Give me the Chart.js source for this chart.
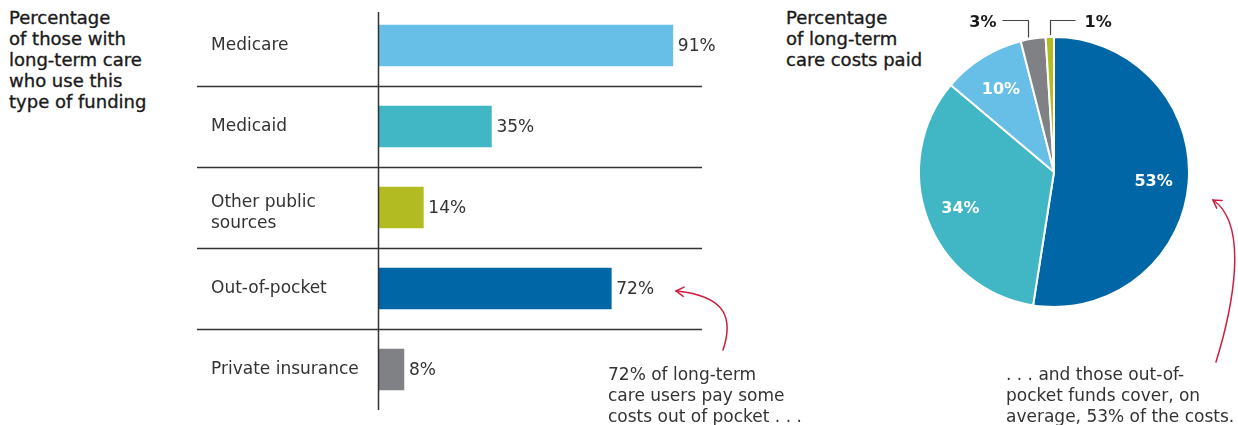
<!DOCTYPE html>
<html><head><meta charset="utf-8">
<script src="https://cdn.jsdelivr.net/npm/chart.js@4.4.1/dist/chart.umd.min.js"></script>
<style>
html,body{margin:0;padding:0;background:#fff;width:1238px;height:425px;overflow:hidden;font-family:"DejaVu Sans",sans-serif;}
.box{position:absolute;}
.ttl{position:absolute;font-size:18px;line-height:21px;color:#1a1a1a;-webkit-text-stroke:.35px #1a1a1a;white-space:nowrap;}
.note{position:absolute;font-size:17px;line-height:21px;color:#333;white-space:nowrap;}
</style></head>
<body>
<div class="ttl" style="left:9px;top:7px">Percentage<br>of those with<br>long-term care<br>who use this<br>type of funding</div>
<div class="ttl" style="left:786px;top:7px">Percentage<br>of long-term<br>care costs paid</div>
<div class="box" style="left:0;top:0;width:760px;height:425px"><canvas id="barChart"></canvas></div>
<div class="box" style="left:880px;top:0;width:358px;height:425px"><canvas id="pieChart"></canvas></div>
<div class="note" style="left:608px;top:364px">72% of long-term<br>care users pay some<br>costs out of pocket . . .</div>
<div class="note" style="left:1006px;top:364px">. . . and those out-of-<br>pocket funds cover, on<br>average, 53% of the costs.</div>
<script>
/* ===== data ===== */
const barCats=[['Medicare'],['Medicaid'],['Other public','sources'],['Out-of-pocket'],['Private insurance']];
const barVals=[91,35,14,72,8];
const barCols=['#67bfe7','#41b6c4','#b2bc22','#0066a6','#808184'];
const pieCats=['Out-of-pocket','Medicaid','Medicare','Private insurance','Other public sources'];
const pieVals=[53,34,10,3,1];
const pieCols=['#0066a6','#41b6c4','#67bfe7','#808184','#b2bc22'];
const RED='#cc1f40', INK='#333';

/* ---------- arrow helper ---------- */
function arrow(ctx,p0,c1,c2,p1){
  ctx.save(); ctx.strokeStyle=RED; ctx.lineWidth=1.5; ctx.lineCap='round';
  ctx.beginPath(); ctx.moveTo(...p0); ctx.bezierCurveTo(...c1,...c2,...p1); ctx.stroke();
  const a=Math.atan2(p1[1]-c2[1],p1[0]-c2[0]), L=9;
  ctx.beginPath();
  ctx.moveTo(p1[0]-L*Math.cos(a-0.55),p1[1]-L*Math.sin(a-0.55)); ctx.lineTo(...p1);
  ctx.lineTo(p1[0]-L*Math.cos(a+0.55),p1[1]-L*Math.sin(a+0.55)); ctx.stroke();
  ctx.restore();
}

/* ---------- bar chart ---------- */
const barDeco={id:'barDeco',
  beforeDatasetsDraw(c){
    const {ctx,scales:{y}}=c;
    ctx.save(); ctx.strokeStyle=INK; ctx.lineWidth=1.5;
    for(let i=0;i<barVals.length-1;i++){
      const yy=Math.round((y.getPixelForValue(i)+y.getPixelForValue(i+1))/2)+.5;
      ctx.beginPath(); ctx.moveTo(197,yy); ctx.lineTo(702,yy); ctx.stroke();
    }
    ctx.restore();
  },
  afterDatasetsDraw(c){
    const {ctx,scales:{x,y}}=c;
    ctx.save(); ctx.strokeStyle=INK; ctx.lineWidth=1.5;
    ctx.beginPath(); ctx.moveTo(378.5,12); ctx.lineTo(378.5,410); ctx.stroke();
    ctx.font='17px "DejaVu Sans"'; ctx.fillStyle=INK; ctx.textBaseline='alphabetic';
    barCats.forEach((lines,i)=>{
      const cy=y.getPixelForValue(i);
      ctx.textAlign='left';
      if(lines.length===1) ctx.fillText(lines[0],211,cy+4.5);
      else lines.forEach((t,k)=>ctx.fillText(t,211,cy-0.5+k*21));
      ctx.fillText(barVals[i]+'%',x.getPixelForValue(barVals[i])+5,cy+5.5);
    });
    ctx.restore();
    arrow(ctx,[723,350],[733,320],[728,296],[676,291]);
  }};

new Chart(document.getElementById('barChart'),{
  type:'bar',
  data:{labels:barCats.map(l=>l.join(' ')),datasets:[{data:barVals,backgroundColor:barCols,barThickness:41,borderWidth:0}]},
  options:{
    indexAxis:'y',responsive:true,maintainAspectRatio:false,animation:false,
    layout:{padding:{left:378,right:58,top:5,bottom:15}},
    plugins:{legend:{display:false},tooltip:{enabled:false}},
    scales:{x:{display:false,min:0,max:100},y:{display:false}}
  },
  plugins:[barDeco]
});

/* ---------- pie chart ---------- */
const pieDeco={id:'pieDeco',afterDatasetsDraw(c){
  const ctx=c.ctx, arcs=c.getDatasetMeta(0).data;
  ctx.save(); ctx.textBaseline='middle'; ctx.font='bold 16px "DejaVu Sans"';
  arcs.forEach((a,i)=>{
    const {x,y,startAngle,endAngle,outerRadius:r}=a.getProps(['x','y','startAngle','endAngle','outerRadius'],true);
    const txt=pieVals[i]+'%';
    if(i<3){
      const m=(startAngle+endAngle)/2;
      ctx.fillStyle='#fff'; ctx.textAlign='center';
      ctx.fillText(txt,x+Math.cos(m)*r*0.74,y+Math.sin(m)*r*0.74+2);
    }else{
      const left=i===3, m=startAngle+(endAngle-startAngle)*(left?0.3:0.5);
      const px=Math.round(x+Math.cos(m)*r)+.5, py=y+Math.sin(m)*r-2, ly=20.5;
      const ex=left?px-26:px+25;
      ctx.strokeStyle='#444'; ctx.lineWidth=1.2;
      ctx.beginPath(); ctx.moveTo(px,py); ctx.lineTo(px,ly); ctx.lineTo(ex,ly); ctx.stroke();
      ctx.fillStyle='#1a1a1a'; ctx.textAlign=left?'right':'left';
      ctx.fillText(txt,left?ex-6:ex+9,ly+2);
    }
  });
  ctx.restore();
  arrow(ctx,[336,362],[352,310],[370,225],[333,200]);
}};

new Chart(document.getElementById('pieChart'),{
  type:'pie',
  data:{labels:pieCats,datasets:[{data:pieVals,backgroundColor:pieCols,borderColor:'#fff',borderWidth:2}]},
  options:{
    responsive:true,maintainAspectRatio:false,animation:false,
    layout:{padding:{left:38,right:48,top:36,bottom:117}},
    plugins:{legend:{display:false},tooltip:{enabled:false}}
  },
  plugins:[pieDeco]
});
</script>
</body></html>
